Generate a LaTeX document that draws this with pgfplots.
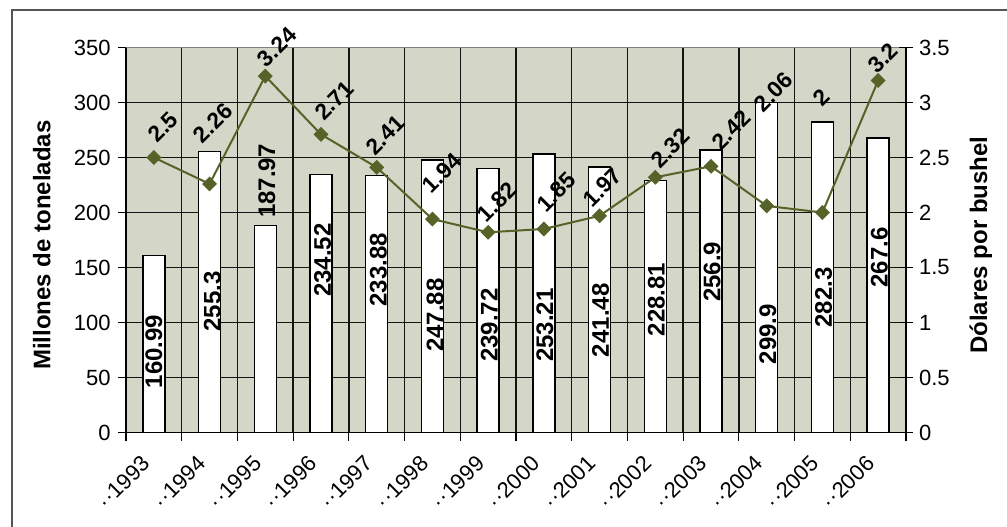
\documentclass[border=0pt]{standalone}
\usepackage{fontspec}
\setmainfont{Liberation Sans}
\usepackage{pgfplots}
\pgfplotsset{compat=1.18}
\definecolor{bgc}{RGB}{212,214,200}
\definecolor{olivec}{RGB}{86,99,40}
\definecolor{gridc}{RGB}{20,20,20}
\definecolor{framec}{RGB}{85,85,85}
\newcommand{\tickfont}{\fontsize{16.5}{18}\selectfont}
\newcommand{\labfont}{\bfseries\fontsize{18}{20}\selectfont}
\newcommand{\linefont}{\bfseries\fontsize{17}{20}\selectfont}
\pgfplotsset{/pgf/number format/assume math mode=true}
\begin{document}
\begin{tikzpicture}
\path[use as bounding box] (0pt,0pt) rectangle (755.25pt,394.5pt);
\draw[framec, line width=1.3pt] (9pt,-20pt) -- (9pt,387pt) -- (780pt,387pt);
\begin{axis}[
  at={(94.5pt,70.125pt)}, anchor=south west,
  width=585pt, height=288.75pt, scale only axis,
  xmin=-0.5, xmax=13.5, ymin=0, ymax=350,
  axis x line*=bottom, axis y line*=left,
  axis line style={black, line width=0.9pt},
  axis background/.style={fill=bgc},
  xtick={-0.5,0.5,1.5,2.5,3.5,4.5,5.5,6.5,7.5,8.5,9.5,10.5,11.5,12.5,13.5}, xticklabels={},
  extra x ticks={0,1,2,3,4,5,6,7,8,9,10,11,12,13},
  extra x tick labels={··1993,··1994,··1995,··1996,··1997,··1998,··1999,··2000,··2001,··2002,··2003,··2004,··2005,··2006},
  extra x tick style={major tick length=0pt, grid=none,
    tick label style={yshift=-16pt, xshift=-10pt, rotate=45, anchor=north east, inner sep=0pt}},
  ytick={0,50,100,150,200,250,300,350},
  tick align=outside, major tick length=6pt,
  tick style={black, line width=0.9pt},
  xmajorgrids, ymajorgrids,
  major grid style={gridc, line width=1pt},
  every tick label/.append style={font=\tickfont},
  yticklabel style={xshift=-2pt},
  ylabel={Millones de toneladas},
  ylabel style={at={(axis description cs:-0.108,0.487)}, anchor=center, font=\labfont},
  clip=false,
]
\addplot[ybar, bar width=0.395, fill=white, draw=black, line width=1pt] coordinates {
(0,160.99) (1,255.3) (2,187.97) (3,234.52) (4,233.88) (5,247.88) (6,239.72)
(7,253.21) (8,241.48) (9,228.81) (10,256.9) (11,299.9) (12,282.3) (13,267.6)};
\draw[gray, line width=1pt] (rel axis cs:0,1) -- (rel axis cs:1,1);
\begin{scope}[every node/.style={rotate=90, font=\labfont, inner sep=0pt}]
\node at (axis cs:0.0,73.6) {160.99};
\node at (axis cs:1.05,119) {255.3};
\node at (axis cs:2.03,228.6) {187.97};
\node at (axis cs:3.03,156.8) {234.52};
\node at (axis cs:4.03,148) {233.88};
\node at (axis cs:5.05,106.8) {247.88};
\node at (axis cs:6.02,97.7) {239.72};
\node at (axis cs:7.02,97.7) {253.21};
\node at (axis cs:8.02,102) {241.48};
\node at (axis cs:9.02,121) {228.81};
\node at (axis cs:10.02,146) {256.9};
\node at (axis cs:11.02,89.5) {299.9};
\node at (axis cs:12.02,122.7) {282.3};
\node at (axis cs:13.02,159) {267.6};
\end{scope}
\end{axis}
\begin{axis}[
  at={(94.5pt,70.125pt)}, anchor=south west,
  width=585pt, height=288.75pt, scale only axis,
  xmin=-0.5, xmax=13.5, ymin=0, ymax=3.5,
  axis x line=none, axis y line*=right,
  axis line style={black, line width=0.9pt},
  ytick={0,0.5,1,1.5,2,2.5,3,3.5},
  tick align=center, major tick length=10.5pt,
  tick style={black, line width=0.9pt},
  every tick label/.append style={font=\tickfont},
  yticklabel style={xshift=1pt},
  ylabel={Dólares por bushel},
  ylabel style={at={(axis description cs:1.096,0.487)}, anchor=center, rotate=0, font=\labfont},
  clip=false,
]
\addplot[olivec, line width=1.5pt, mark=square*, mark size=3.2pt, mark options={rotate=45, solid, fill=olivec}] coordinates {
(0,2.5) (1,2.26) (2,3.24) (3,2.71) (4,2.41) (5,1.94) (6,1.82)
(7,1.85) (8,1.97) (9,2.32) (10,2.42) (11,2.06) (12,2) (13,3.2)};
\begin{scope}[every node/.style={rotate=45, font=\linefont, inner sep=0pt}]
\node at (axis cs:0.164,2.777) {2.5};
\node at (axis cs:1.062,2.814) {2.26};
\node at (axis cs:2.211,3.505) {3.24};
\node at (axis cs:3.234,3.02) {2.71};
\node at (axis cs:4.15,2.705) {2.41};
\node at (axis cs:5.17,2.36) {1.94};
\node at (axis cs:6.16,2.095) {1.82};
\node at (axis cs:7.22,2.186) {1.85};
\node at (axis cs:8.05,2.23) {1.97};
\node at (axis cs:9.27,2.586) {2.32};
\node at (axis cs:10.36,2.75) {2.42};
\node at (axis cs:11.12,3.095) {2.06};
\node at (axis cs:11.98,3.05) {2};
\node at (axis cs:13.09,3.405) {3.2};
\end{scope}
\end{axis}
\end{tikzpicture}
\end{document}
